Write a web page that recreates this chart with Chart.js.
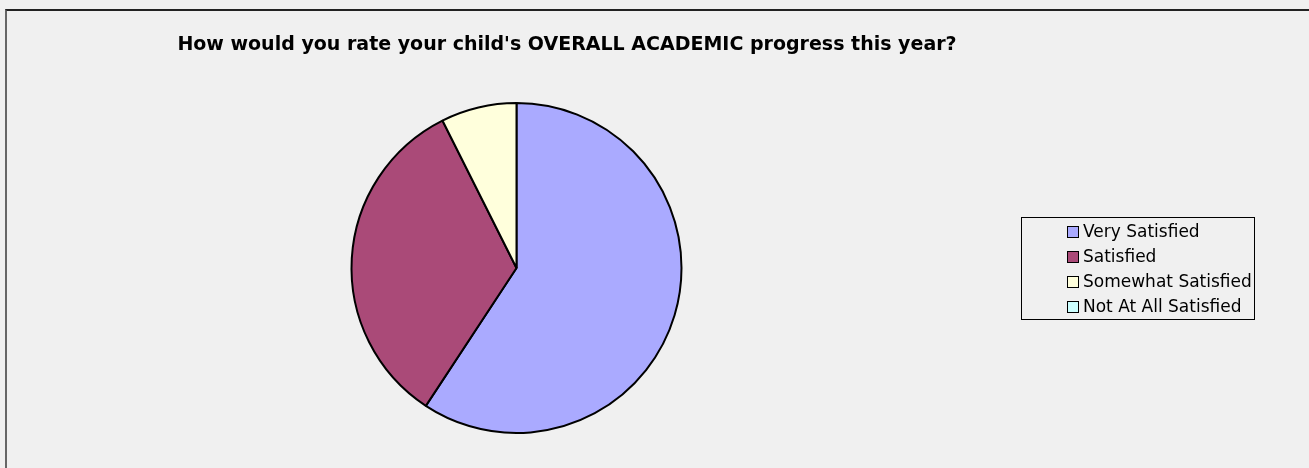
<!DOCTYPE html>
<html>
<head>
<meta charset="utf-8">
<script src="https://cdn.jsdelivr.net/npm/chart.js@4/dist/chart.umd.min.js"></script>
<style>
  html, body { margin: 0; padding: 0; background: #f0f0f0; overflow: hidden; }
  #frame {
    position: absolute; left: 5px; top: 9px; width: 1400px; height: 500px;
    border-top: 2px solid #222; border-left: 2px solid #666;
  }
  #wrap { position: absolute; left: 0; top: 0; width: 1309px; height: 468px; }
  #legend {
    position: absolute; left: 1021px; top: 217px; width: 234px; height: 103px;
    border: 1px solid #000; box-sizing: border-box;
    font-family: "DejaVu Sans", Verdana, sans-serif; font-size: 17px; color: #000;
    padding: 1px 0 0 45px;
  }
  .item { height: 25px; line-height: 25px; white-space: nowrap; }
  .box {
    display: inline-block; width: 10px; height: 10px; border: 1px solid #000;
    margin-right: 4px; vertical-align: -1px;
  }
</style>
</head>
<body>
<div id="frame"></div>
<div id="wrap"><canvas id="myPieChart" width="1309" height="468"></canvas></div>
<div id="legend"></div>
<script>
const labels = ['Very Satisfied', 'Satisfied', 'Somewhat Satisfied', 'Not At All Satisfied'];
const values = [16, 9, 2, 0];
const colors = ['#aaaaff', '#aa4a78', '#ffffdc', '#ccffff'];

const chartTitle = 'How would you rate your child\'s OVERALL ACADEMIC progress this year?';

// title drawn on the canvas, off-centre like the original
const titlePlugin = {
  id: 'offTitle',
  afterDraw(chart) {
    const ctx = chart.ctx;
    ctx.save();
    ctx.font = 'bold 19px "DejaVu Sans", Verdana, sans-serif';
    ctx.fillStyle = '#000';
    ctx.textAlign = 'center';
    ctx.textBaseline = 'middle';
    ctx.fillText(chartTitle, 567, 45);
    ctx.restore();
  }
};

const config = {
  type: 'pie',
  data: {
    labels: labels,
    datasets: [{
      data: values,
      backgroundColor: colors,
      borderColor: '#000',
      borderWidth: 2
    }]
  },
  options: {
    responsive: false,
    animation: false,
    layout: {
      padding: { top: 102, bottom: 34, left: 0, right: 276 }
    },
    plugins: {
      legend: { display: false },
      title: { display: false },
      tooltip: { enabled: false }
    }
  },
  plugins: [titlePlugin]
};

const myChart = new Chart(document.getElementById('myPieChart'), config);

// legend box on the right
const legendEl = document.getElementById('legend');
labels.forEach((name, i) => {
  const row = document.createElement('div');
  row.className = 'item';
  const sw = document.createElement('span');
  sw.className = 'box';
  sw.style.background = colors[i];
  row.appendChild(sw);
  row.appendChild(document.createTextNode(name));
  legendEl.appendChild(row);
});
</script>
</body>
</html>
